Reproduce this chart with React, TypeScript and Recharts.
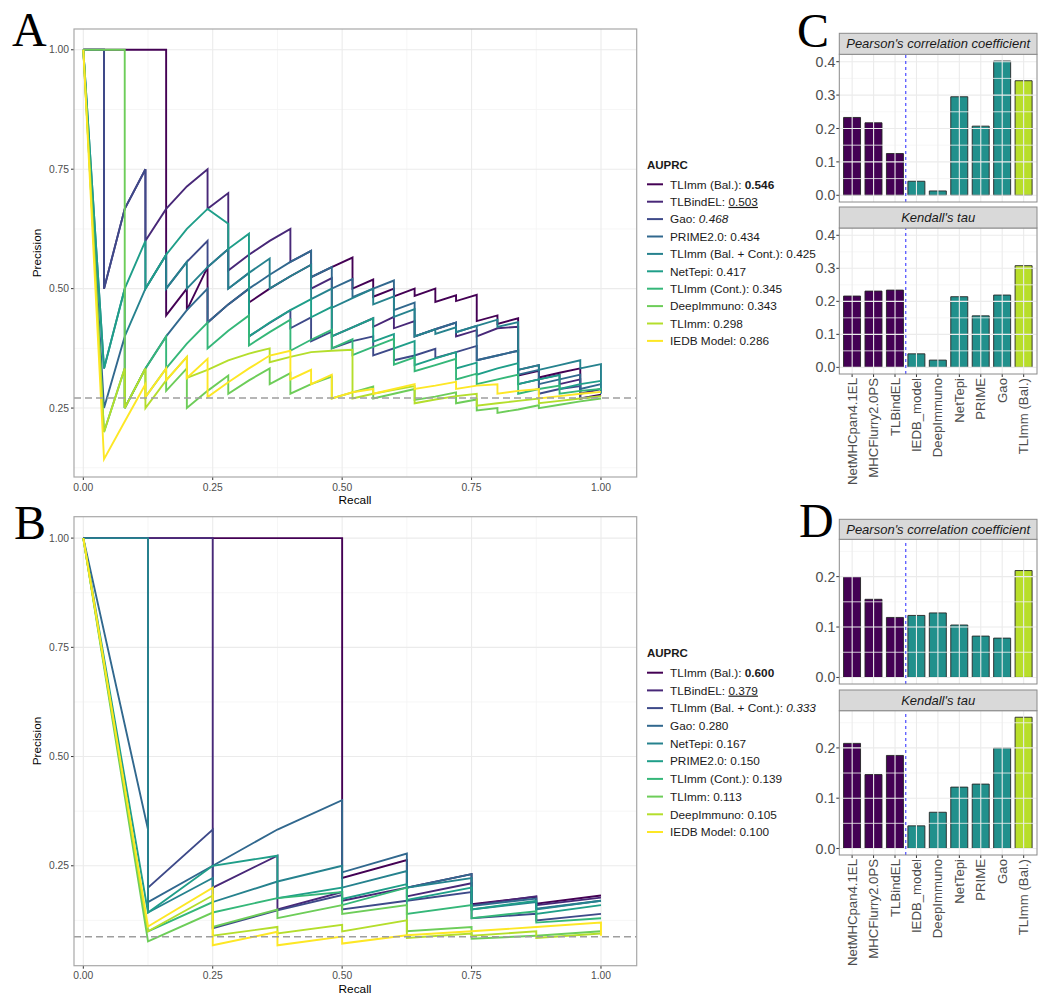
import React from 'react';
import { LineChart, Line, XAxis, YAxis, ReferenceLine, BarChart, Bar, Cell } from 'recharts';

const FONT = "'Liberation Sans', Arial, Helvetica, sans-serif";
const VIRIDIS = ['#440154', '#482878', '#3E4A89', '#31688E', '#26828E', '#1F9E89', '#35B779', '#6DCD59', '#B4DE2C', '#FDE725'];

// ---------- Panel A: precision-recall curves ----------
const namesA = ['TLImm (Bal.)', 'TLBindEL', 'Gao', 'PRIME2.0', 'TLImm (Bal. + Cont.)', 'NetTepi', 'TLImm (Cont.)', 'DeepImmuno', 'TLImm', 'IEDB Model'];
const auprcA = ['0.546', '0.503', '0.468', '0.434', '0.425', '0.417', '0.345', '0.343', '0.298', '0.286'];
const baselineA = 0.271;

const a_TLImmBal = [[0,1],[0.04,1],[0.08,1],[0.12,1],[0.16,1],[0.16,0.444],[0.2,0.5],[0.2,0.455],[0.24,0.545],[0.24,0.429],[0.28,0.467],[0.32,0.5],[0.32,0.471],[0.36,0.5],[0.4,0.526],[0.44,0.55],[0.44,0.524],[0.48,0.545],[0.52,0.565],[0.52,0.5],[0.56,0.519],[0.56,0.483],[0.6,0.5],[0.6,0.484],[0.64,0.5],[0.64,0.485],[0.68,0.5],[0.68,0.472],[0.72,0.486],[0.72,0.474],[0.76,0.487],[0.76,0.432],[0.8,0.444],[0.8,0.426],[0.84,0.438],[0.84,0.318],[0.88,0.328],[0.88,0.314],[0.92,0.324],[0.96,0.333],[0.96,0.27],[1,0.278]];
const a_TLBindEL = [[0,1],[0.04,1],[0.04,0.5],[0.08,0.667],[0.12,0.75],[0.12,0.6],[0.16,0.667],[0.2,0.714],[0.24,0.75],[0.24,0.667],[0.28,0.7],[0.28,0.538],[0.32,0.571],[0.36,0.6],[0.4,0.625],[0.4,0.556],[0.44,0.579],[0.44,0.5],[0.48,0.522],[0.48,0.4],[0.52,0.419],[0.56,0.438],[0.56,0.42],[0.6,0.441],[0.6,0.417],[0.64,0.432],[0.64,0.4],[0.68,0.415],[0.72,0.429],[0.72,0.4],[0.76,0.413],[0.76,0.4],[0.8,0.417],[0.84,0.42],[0.84,0.33],[0.88,0.34],[0.88,0.31],[0.92,0.32],[0.92,0.3],[0.96,0.31],[0.96,0.28],[1,0.29]];
const a_Gao = [[0,1],[0.04,1],[0.04,0.5],[0.08,0.667],[0.12,0.75],[0.12,0.5],[0.16,0.571],[0.16,0.5],[0.2,0.556],[0.24,0.6],[0.24,0.545],[0.28,0.583],[0.28,0.5],[0.32,0.533],[0.32,0.4],[0.36,0.428],[0.4,0.455],[0.4,0.417],[0.44,0.44],[0.44,0.39],[0.48,0.41],[0.48,0.375],[0.52,0.39],[0.56,0.4],[0.56,0.36],[0.6,0.375],[0.6,0.35],[0.64,0.36],[0.68,0.374],[0.68,0.355],[0.72,0.367],[0.76,0.38],[0.76,0.35],[0.8,0.36],[0.84,0.37],[0.84,0.3],[0.88,0.31],[0.88,0.28],[0.92,0.29],[0.96,0.296],[0.96,0.27],[1,0.275]];
const a_PRIME = [[0,1],[0.04,0.25],[0.08,0.4],[0.08,0.25],[0.12,0.333],[0.16,0.4],[0.2,0.455],[0.24,0.5],[0.24,0.429],[0.28,0.467],[0.32,0.5],[0.36,0.529],[0.4,0.556],[0.44,0.579],[0.44,0.524],[0.48,0.545],[0.48,0.5],[0.52,0.52],[0.52,0.482],[0.56,0.5],[0.6,0.517],[0.6,0.455],[0.64,0.471],[0.64,0.4],[0.68,0.415],[0.72,0.429],[0.72,0.409],[0.76,0.422],[0.76,0.35],[0.8,0.36],[0.84,0.37],[0.84,0.32],[0.88,0.33],[0.88,0.3],[0.92,0.31],[0.96,0.32],[0.96,0.29],[1,0.3]];
const a_TLImmBalCont = [[0,1],[0.04,0.333],[0.08,0.5],[0.08,0.4],[0.12,0.5],[0.16,0.571],[0.16,0.5],[0.2,0.556],[0.2,0.5],[0.24,0.545],[0.28,0.583],[0.28,0.5],[0.32,0.533],[0.36,0.563],[0.36,0.5],[0.4,0.526],[0.44,0.55],[0.44,0.478],[0.48,0.5],[0.48,0.46],[0.52,0.48],[0.56,0.5],[0.56,0.467],[0.6,0.484],[0.6,0.441],[0.64,0.457],[0.64,0.4],[0.68,0.415],[0.68,0.405],[0.72,0.419],[0.72,0.409],[0.76,0.422],[0.8,0.435],[0.8,0.42],[0.84,0.43],[0.84,0.33],[0.88,0.34],[0.88,0.33],[0.92,0.34],[0.96,0.35],[0.96,0.333],[1,0.342],[1,0.28]];
const a_NetTepi = [[0,1],[0.04,0.333],[0.08,0.5],[0.12,0.6],[0.12,0.5],[0.16,0.571],[0.2,0.625],[0.24,0.667],[0.28,0.636],[0.28,0.583],[0.32,0.615],[0.32,0.4],[0.36,0.429],[0.4,0.455],[0.44,0.478],[0.44,0.44],[0.48,0.462],[0.48,0.4],[0.52,0.419],[0.56,0.438],[0.56,0.389],[0.6,0.405],[0.6,0.375],[0.64,0.39],[0.64,0.34],[0.68,0.354],[0.72,0.367],[0.72,0.333],[0.76,0.345],[0.76,0.32],[0.8,0.333],[0.84,0.344],[0.84,0.3],[0.88,0.31],[0.92,0.319],[0.92,0.29],[0.96,0.3],[1,0.307]];
const a_TLImmCont = [[0,1],[0.04,0.2],[0.08,0.333],[0.08,0.25],[0.12,0.333],[0.16,0.4],[0.16,0.333],[0.2,0.385],[0.24,0.429],[0.24,0.375],[0.28,0.412],[0.32,0.444],[0.32,0.381],[0.36,0.409],[0.4,0.435],[0.4,0.37],[0.44,0.393],[0.48,0.414],[0.48,0.375],[0.52,0.394],[0.52,0.361],[0.56,0.378],[0.6,0.395],[0.6,0.341],[0.64,0.356],[0.64,0.327],[0.68,0.34],[0.72,0.353],[0.72,0.31],[0.76,0.322],[0.76,0.3],[0.8,0.31],[0.84,0.32],[0.84,0.28],[0.88,0.29],[0.92,0.297],[0.92,0.28],[0.96,0.286],[1,0.29]];
const a_DeepImmuno = [[0,1],[0.04,1],[0.08,1],[0.08,0.333],[0.08,0.25],[0.12,0.333],[0.12,0.273],[0.16,0.333],[0.16,0.286],[0.2,0.333],[0.2,0.25],[0.24,0.286],[0.28,0.318],[0.28,0.28],[0.32,0.308],[0.36,0.333],[0.36,0.3],[0.4,0.323],[0.4,0.28],[0.44,0.3],[0.48,0.316],[0.48,0.27],[0.52,0.283],[0.56,0.295],[0.56,0.27],[0.6,0.28],[0.64,0.29],[0.64,0.267],[0.68,0.274],[0.72,0.283],[0.72,0.26],[0.76,0.268],[0.76,0.245],[0.8,0.25],[0.8,0.24],[0.84,0.247],[0.88,0.256],[0.88,0.25],[0.92,0.257],[0.96,0.264],[1,0.27]];
const a_TLImm = [[0,1],[0.04,0.2],[0.08,0.333],[0.08,0.25],[0.12,0.333],[0.12,0.25],[0.16,0.308],[0.2,0.357],[0.2,0.313],[0.24,0.33],[0.28,0.35],[0.32,0.364],[0.36,0.375],[0.36,0.346],[0.4,0.357],[0.44,0.367],[0.48,0.37],[0.52,0.372],[0.52,0.27],[0.56,0.28],[0.6,0.288],[0.64,0.296],[0.64,0.26],[0.68,0.268],[0.72,0.275],[0.76,0.28],[0.76,0.255],[0.8,0.26],[0.84,0.265],[0.88,0.27],[0.88,0.26],[0.92,0.265],[0.96,0.27],[1,0.275]];
const a_IEDB = [[0,1],[0.04,0.143],[0.08,0.222],[0.12,0.3],[0.12,0.273],[0.16,0.333],[0.16,0.308],[0.2,0.357],[0.2,0.313],[0.24,0.353],[0.24,0.273],[0.28,0.304],[0.32,0.333],[0.36,0.36],[0.4,0.37],[0.4,0.31],[0.44,0.33],[0.44,0.3],[0.48,0.32],[0.48,0.27],[0.52,0.283],[0.56,0.29],[0.56,0.28],[0.6,0.29],[0.64,0.3],[0.64,0.29],[0.68,0.297],[0.72,0.305],[0.72,0.29],[0.76,0.297],[0.8,0.3],[0.8,0.28],[0.84,0.286],[0.88,0.29],[0.88,0.27],[0.92,0.275],[0.96,0.28],[1,0.284]];
const curvesA = [a_TLImmBal, a_TLBindEL, a_Gao, a_PRIME, a_TLImmBalCont, a_NetTepi, a_TLImmCont, a_DeepImmuno, a_TLImm, a_IEDB];

// ---------- Panel B: precision-recall curves ----------
const namesB = ['TLImm (Bal.)', 'TLBindEL', 'TLImm (Bal. + Cont.)', 'Gao', 'NetTepi', 'PRIME2.0', 'TLImm (Cont.)', 'TLImm', 'DeepImmuno', 'IEDB Model'];
const auprcB = ['0.600', '0.379', '0.333', '0.280', '0.167', '0.150', '0.139', '0.113', '0.105', '0.100'];
const baselineB = 0.0876;

const b_TLImmBal = [[0,1],[0.125,1],[0.25,1],[0.375,1],[0.5,1],[0.5,0.222],[0.625,0.263],[0.625,0.2],[0.75,0.231],[0.75,0.162],[0.875,0.179],[0.875,0.163],[1,0.182]];
const b_TLBindEL = [[0,1],[0.125,1],[0.25,1],[0.25,0.2],[0.375,0.273],[0.375,0.15],[0.5,0.19],[0.5,0.17],[0.625,0.2],[0.625,0.18],[0.75,0.21],[0.75,0.16],[0.875,0.18],[0.875,0.16],[1,0.177]];
const b_TLImmBalCont = [[0,1],[0.125,1],[0.125,0.2],[0.25,0.333],[0.25,0.107],[0.375,0.148],[0.5,0.183],[0.5,0.15],[0.625,0.17],[0.75,0.19],[0.75,0.13],[0.875,0.14],[0.875,0.125],[1,0.14]];
const b_Gao = [[0,1],[0.125,0.333],[0.125,0.167],[0.25,0.25],[0.375,0.333],[0.5,0.4],[0.5,0.235],[0.625,0.278],[0.625,0.2],[0.75,0.231],[0.75,0.158],[0.875,0.175],[0.875,0.152],[1,0.17]];
const b_NetTepi = [[0,1],[0.125,1],[0.125,0.143],[0.25,0.222],[0.25,0.167],[0.375,0.214],[0.5,0.25],[0.5,0.2],[0.625,0.238],[0.625,0.2],[0.75,0.222],[0.75,0.15],[0.875,0.167],[0.875,0.15],[1,0.17]];
const b_PRIME = [[0,1],[0.125,0.143],[0.25,0.25],[0.375,0.273],[0.375,0.176],[0.5,0.2],[0.5,0.174],[0.625,0.208],[0.625,0.172],[0.75,0.2],[0.75,0.15],[0.875,0.17],[0.875,0.14],[1,0.16]];
const b_TLImmCont = [[0,1],[0.125,0.1],[0.25,0.167],[0.25,0.143],[0.375,0.176],[0.5,0.19],[0.5,0.16],[0.625,0.2],[0.625,0.14],[0.75,0.16],[0.75,0.13],[0.875,0.146],[0.875,0.12],[1,0.13]];
const b_TLImm = [[0,1],[0.125,0.077],[0.25,0.143],[0.25,0.11],[0.375,0.15],[0.375,0.13],[0.5,0.16],[0.5,0.14],[0.625,0.16],[0.625,0.1],[0.75,0.11],[0.75,0.083],[0.875,0.09],[1,0.1]];
const b_DeepImmuno = [[0,1],[0.125,0.1],[0.25,0.182],[0.25,0.09],[0.375,0.11],[0.375,0.095],[0.5,0.115],[0.5,0.1],[0.625,0.125],[0.625,0.085],[0.75,0.095],[0.75,0.09],[0.875,0.1],[0.875,0.085],[1,0.095]];
const b_IEDB = [[0,1],[0.125,0.111],[0.25,0.2],[0.25,0.068],[0.375,0.099],[0.375,0.068],[0.5,0.088],[0.5,0.072],[0.625,0.091],[0.75,0.1],[0.875,0.11],[1,0.12],[1,0.09]];
const curvesB = [b_TLImmBal, b_TLBindEL, b_TLImmBalCont, b_Gao, b_NetTepi, b_PRIME, b_TLImmCont, b_TLImm, b_DeepImmuno, b_IEDB];

// ---------- Panels C and D: correlation bars ----------
const models = ['NetMHCpan4.1EL', 'MHCFlurry2.0PS', 'TLBindEL', 'IEDB_model', 'DeepImmuno', 'NetTepi', 'PRIME', 'Gao', 'TLImm (Bal.)'];
const modelGroup = ['binding', 'binding', 'binding', 'immuno', 'immuno', 'immuno', 'immuno', 'immuno', 'ours'];
const pearsonC = [0.233, 0.217, 0.125, 0.042, 0.013, 0.295, 0.207, 0.402, 0.343];
const kendallC = [0.216, 0.231, 0.234, 0.041, 0.022, 0.214, 0.156, 0.219, 0.308];
const pearsonD = [0.200, 0.155, 0.119, 0.123, 0.128, 0.104, 0.082, 0.078, 0.212];
const kendallD = [0.209, 0.147, 0.185, 0.045, 0.072, 0.122, 0.128, 0.200, 0.261];
const groupColor: Record<string, string> = { binding: '#440154', immuno: '#21908C', ours: '#B8DE29' };

const toPts = (c: number[][]) => c.map(([r, p]) => ({ r, p }));
const barRows = (vals: number[]) => models.map((name, i) => ({ name, idx: i + 1, v: vals[i], g: modelGroup[i] }));

const TICK_GREY = '#4D4D4D';

function PRPanel({ top, curves, names, baseline, yDomain, plotTop, plotBottom }: any) {
  const H = 520;
  const minorY = [0.125, 0.375, 0.625, 0.875];
  return (
    <div style={{ position: 'absolute', left: 0, top, width: 640, height: H }}>
      <LineChart width={640} height={H} margin={{ top: plotTop, right: 3.3, left: 34, bottom: H - plotBottom - 30 }}>
        <XAxis type="number" dataKey="r" domain={[-0.018, 1.069]} allowDataOverflow ticks={[0, 0.25, 0.5, 0.75, 1]}
          tickFormatter={(v: number) => v.toFixed(2)} height={30} tickSize={3} tickMargin={3.2} axisLine={false}
          tickLine={{ stroke: '#333' }} tick={{ fontSize: 10.3, fill: TICK_GREY }} interval={0} />
        <YAxis type="number" dataKey="p" domain={yDomain} allowDataOverflow ticks={[0.25, 0.5, 0.75, 1]}
          tickFormatter={(v: number) => v.toFixed(2)} width={40} tickSize={3} tickMargin={2} axisLine={false}
          tickLine={{ stroke: '#333' }} tick={{ fontSize: 10.3, fill: TICK_GREY }} interval={0} />
        {[0.125, 0.375, 0.625, 0.875].map((v) => <ReferenceLine key={'mx' + v} x={v} stroke="#F4F4F4" strokeWidth={0.8} />)}
        {minorY.map((v) => <ReferenceLine key={'my' + v} y={v} stroke="#F4F4F4" strokeWidth={0.8} />)}
        {[0, 0.25, 0.5, 0.75, 1].map((v) => <ReferenceLine key={'Mx' + v} x={v} stroke="#EBEBEB" strokeWidth={1.1} />)}
        {[0.25, 0.5, 0.75, 1].map((v) => <ReferenceLine key={'My' + v} y={v} stroke="#EBEBEB" strokeWidth={1.1} />)}
        {curves.map((c: number[][], i: number) => (
          <Line key={names[i]} data={toPts(c)} dataKey="p" type="linear" stroke={VIRIDIS[i]} strokeWidth={1.9}
            dot={false} activeDot={false} isAnimationActive={false} strokeLinejoin="miter" />
        ))}
        <ReferenceLine y={baseline} stroke="#9E9E9E" strokeWidth={1.5} strokeDasharray="7 4" />
      </LineChart>
    </div>
  );
}

const CatTick = (props: any) => {
  const { x, y, payload } = props;
  return (
    <text x={x} y={y} transform={`rotate(-90 ${x} ${y})`} textAnchor="end" dominantBaseline="central"
      fontSize={13.2} fill={TICK_GREY}>{payload.value}</text>
  );
};

function FacetBars({ top, height, plotTop, plotBottom, vals, domain, ticks, minor, labels }: any) {
  const xH = labels ? 112 : 1;
  const rows = barRows(vals);
  return (
    <div style={{ position: 'absolute', left: 790, top, width: 260, height }}>
      <BarChart width={260} height={height} data={rows} barCategoryGap="10%"
        margin={{ top: plotTop, right: 13.5, left: 4.3, bottom: height - plotBottom - xH }}>
        <XAxis xAxisId="cat" dataKey="name" type="category" padding={{ left: 2.1, right: 2.1 }} height={xH}
          interval={0} axisLine={false} tickSize={labels ? 3 : 0} tickMargin={1}
          tickLine={labels ? { stroke: '#333' } : false} tick={labels ? <CatTick /> : false} />
        <XAxis xAxisId="num" dataKey="idx" type="number" domain={[0.4, 9.6]} allowDataOverflow hide />
        <YAxis type="number" domain={domain} allowDataOverflow ticks={ticks} tickFormatter={(v: number) => v.toFixed(1)}
          width={45} tickSize={3} tickMargin={1} axisLine={false} tickLine={{ stroke: '#333' }}
          tick={{ fontSize: 14.2, fill: TICK_GREY }} interval={0} />
        {minor.map((v: number) => <ReferenceLine key={'mn' + v} xAxisId="num" y={v} stroke="#F4F4F4" strokeWidth={0.8} />)}
        {ticks.map((v: number) => <ReferenceLine key={'mj' + v} xAxisId="num" y={v} stroke="#EBEBEB" strokeWidth={1.1} />)}
        {rows.map((r) => <ReferenceLine key={'vx' + r.idx} xAxisId="num" x={r.idx} stroke="#EBEBEB" strokeWidth={1.1} />)}
        <Bar xAxisId="cat" dataKey="v" stroke="#262626" strokeWidth={0.9} isAnimationActive={false}>
          {rows.map((r) => <Cell key={r.name} fill={groupColor[r.g]} />)}
        </Bar>
        <ReferenceLine xAxisId="num" x={3.5} stroke="#4B4BFF" strokeWidth={1.2} strokeDasharray="3 3" />
      </BarChart>
    </div>
  );
}

function LegendBlock({ x, y0, step, names, values, titleY }: any) {
  return (
    <g fontFamily={FONT} fontSize={11.8} fill="#1A1A1A">
      <text x={x} y={titleY + 4.2} fontWeight="bold" fontSize={11.5}>AUPRC</text>
      {names.map((n: string, i: number) => {
        const cy = y0 + i * step;
        const v = values[i];
        return (
          <g key={n}>
            <line x1={x} x2={x + 16} y1={cy} y2={cy} stroke={VIRIDIS[i]} strokeWidth={2} />
            <text x={x + 23} y={cy + 4.2}>
              {n + ': '}
              {i === 0 ? <tspan fontWeight="bold">{v}</tspan> : i === 1 ? <tspan textDecoration="underline" style={{ textDecoration: 'underline' }}>{v}</tspan> : i === 2 ? <tspan fontStyle="italic">{v}</tspan> : <tspan>{v}</tspan>}
            </text>
          </g>
        );
      })}
    </g>
  );
}

function Strip({ x1, x2, y1, y2, label }: any) {
  return (
    <g>
      <rect x={x1} y={y1} width={x2 - x1} height={y2 - y1} fill="#D9D9D9" stroke="#8A8A8A" strokeWidth={1} />
      <text x={(x1 + x2) / 2} y={(y1 + y2) / 2 + 4.6} textAnchor="middle" fontStyle="italic" fontSize={13}
        fontFamily={FONT} fill="#1A1A1A">{label}</text>
    </g>
  );
}

export default function App() {
  const bx1 = 839.3, bx2 = 1037;
  return (
    <div style={{ position: 'absolute', left: 0, top: 0, width: 1050, height: 1007, background: '#fff', fontFamily: FONT, overflow: 'hidden' }}>
      <PRPanel top={0} curves={curvesA} names={namesA} baseline={baselineA} yDomain={[0.1057, 1.0435]} plotTop={29} plotBottom={477} />
      <PRPanel top={490} curves={curvesB} names={namesB} baseline={baselineB} yDomain={[0.0213, 1.049]} plotTop={26.7} plotBottom={475.7} />

      <FacetBars top={0} height={206} plotTop={54.3} plotBottom={202} vals={pearsonC} domain={[-0.0201, 0.4221]}
        ticks={[0, 0.1, 0.2, 0.3, 0.4]} minor={[0.05, 0.15, 0.25, 0.35]} labels={false} />
      <FacetBars top={200} height={292} plotTop={28} plotBottom={174} vals={kendallC} domain={[-0.0201, 0.4221]}
        ticks={[0, 0.1, 0.2, 0.3, 0.4]} minor={[0.05, 0.15, 0.25, 0.35]} labels={true} />
      <FacetBars top={500} height={188} plotTop={39.3} plotBottom={184} vals={pearsonD} domain={[-0.013, 0.274]}
        ticks={[0, 0.1, 0.2]} minor={[0.05, 0.15, 0.25]} labels={false} />
      <FacetBars top={690} height={292} plotTop={20.7} plotBottom={165} vals={kendallD} domain={[-0.013, 0.274]}
        ticks={[0, 0.1, 0.2]} minor={[0.05, 0.15, 0.25]} labels={true} />

      <svg width={1050} height={1007} style={{ position: 'absolute', left: 0, top: 0, pointerEvents: 'none' }}>
        {/* panel borders */}
        <rect x={74} y={29} width={562.7} height={448} fill="none" stroke="#A8A8A8" strokeWidth={1.2} />
        <rect x={74} y={516.7} width={562.7} height={449} fill="none" stroke="#A8A8A8" strokeWidth={1.2} />
        <rect x={bx1} y={54.3} width={bx2 - bx1} height={147.7} fill="none" stroke="#8A8A8A" strokeWidth={1} />
        <rect x={bx1} y={228} width={bx2 - bx1} height={146} fill="none" stroke="#8A8A8A" strokeWidth={1} />
        <rect x={bx1} y={539.3} width={bx2 - bx1} height={144.7} fill="none" stroke="#8A8A8A" strokeWidth={1} />
        <rect x={bx1} y={710.7} width={bx2 - bx1} height={144.3} fill="none" stroke="#8A8A8A" strokeWidth={1} />
        <Strip x1={bx1} x2={bx2} y1={33.3} y2={54.3} label="Pearson's correlation coefficient" />
        <Strip x1={bx1} x2={bx2} y1={207} y2={228} label="Kendall's tau" />
        <Strip x1={bx1} x2={bx2} y1={519.3} y2={539.3} label="Pearson's correlation coefficient" />
        <Strip x1={bx1} x2={bx2} y1={690} y2={710.7} label="Kendall's tau" />

        {/* axis titles */}
        <text x={355} y={503.5} textAnchor="middle" fontSize={11.8} fontFamily={FONT} fill="#000">Recall</text>
        <text x={355} y={993} textAnchor="middle" fontSize={11.8} fontFamily={FONT} fill="#000">Recall</text>
        <text x={41} y={253} textAnchor="middle" fontSize={11.8} fontFamily={FONT} fill="#000" transform="rotate(-90 41 253)">Precision</text>
        <text x={41} y={741} textAnchor="middle" fontSize={11.8} fontFamily={FONT} fill="#000" transform="rotate(-90 41 741)">Precision</text>

        {/* legends */}
        <LegendBlock x={647} titleY={165} y0={184.3} step={17.4} names={namesA} values={auprcA} />
        <LegendBlock x={647} titleY={652.7} y0={672.7} step={17.7} names={namesB} values={auprcB} />

        {/* panel letters */}
        <g fontFamily="'Liberation Serif', 'Times New Roman', serif" fontSize={48} fill="#000">
          <text x={12} y={46}>A</text>
          <text x={14} y={539}>B</text>
          <text x={797} y={46.5}>C</text>
          <text x={799} y={537}>D</text>
        </g>
      </svg>
    </div>
  );
}
